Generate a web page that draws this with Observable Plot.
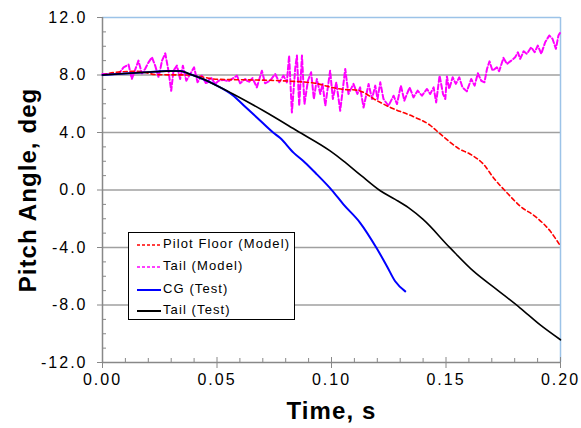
<!DOCTYPE html>
<html><head><meta charset="utf-8">
<script src="https://cdn.jsdelivr.net/npm/d3@7"></script>
<script src="https://cdn.jsdelivr.net/npm/@observablehq/plot@0.6"></script>
<style>
body{margin:0;background:#fff;}
#wrap{position:relative;width:581px;height:428px;}
#wrap svg g[aria-label="y-axis tick label"] text,
#wrap svg g[aria-label="x-axis tick label"] text{letter-spacing:2px;}
#wrap svg g[aria-label="text"] text{letter-spacing:1.1px;}
#legend{position:absolute;left:128px;top:232px;width:165px;height:86px;border:1px solid #000;background:#fff;font-family:"Liberation Sans",Arial,sans-serif;font-size:13px;letter-spacing:1.1px;color:#000;}
#legend .row{position:absolute;left:8px;height:20px;line-height:20px;white-space:nowrap;}
#legend svg{vertical-align:middle;margin-right:2px;}
</style></head><body><div id="wrap"></div>
<script>
// X ticks and Y ticks
const xTicks = [0, 0.05, 0.10, 0.15, 0.20];
const yTicks = [-12, -8, -4, 0, 4, 8, 12];

// Pilot Floor (Model)
const pilotT = [0, 0.006, 0.015, 0.024, 0.038, 0.05, 0.064, 0.078, 0.093, 0.1, 0.105, 0.111, 0.12, 0.1256, 0.1358, 0.1431, 0.1475, 0.156, 0.1606, 0.1664, 0.1707, 0.1766, 0.1824, 0.1897, 0.1955, 0.2];
const pilotY = [8.0, 8.19, 8.26, 8.02, 8.0, 7.7, 7.66, 7.6, 7.42, 7.14, 7.0, 6.95, 6.2, 5.75, 5.1, 4.5, 3.9, 2.84, 2.49, 1.79, 0.86, -0.19, -1.12, -1.93, -2.86, -3.91];

// Tail (Model)
const tailModelT = [0, 0.007, 0.0092, 0.0114, 0.0128, 0.0157, 0.0172, 0.0186, 0.0201, 0.0216, 0.023, 0.0245, 0.026, 0.0274, 0.0288, 0.03, 0.031, 0.0325, 0.0339, 0.0351, 0.0366, 0.0383, 0.04, 0.0415, 0.0434, 0.0453, 0.0473, 0.0492, 0.0507, 0.0528, 0.055, 0.0572, 0.0587, 0.0601, 0.0623, 0.0638, 0.0655, 0.0674, 0.0696, 0.071, 0.0732, 0.0754, 0.0772, 0.079, 0.0805, 0.0815, 0.0827, 0.0842, 0.0849, 0.0859, 0.0871, 0.0882, 0.0897, 0.0911, 0.0923, 0.0936, 0.0951, 0.0961, 0.0973, 0.0994, 0.1006, 0.1021, 0.1038, 0.106, 0.1074, 0.1096, 0.1113, 0.1125, 0.114, 0.1162, 0.1177, 0.1191, 0.1201, 0.1213, 0.1227, 0.1249, 0.1271, 0.1286, 0.1303, 0.1318, 0.1341, 0.1358, 0.1376, 0.1395, 0.1417, 0.1431, 0.1446, 0.1457, 0.1472, 0.1487, 0.1497, 0.1504, 0.1514, 0.1529, 0.1543, 0.1558, 0.1572, 0.1591, 0.161, 0.1625, 0.1639, 0.1654, 0.1668, 0.1679, 0.169, 0.1703, 0.1722, 0.1732, 0.1751, 0.1766, 0.1785, 0.1802, 0.1814, 0.1824, 0.1839, 0.1853, 0.1872, 0.1887, 0.1901, 0.1916, 0.1933, 0.1951, 0.1965, 0.198, 0.1991, 0.2];
const tailModelY = [8.07, 8.07, 8.53, 8.72, 7.72, 9.0, 8.1, 8.42, 8.88, 9.23, 8.65, 7.84, 9.0, 9.51, 8.3, 6.9, 8.3, 8.65, 7.72, 8.65, 7.6, 8.07, 8.53, 7.49, 7.96, 7.38, 7.84, 7.38, 7.6, 7.66, 7.56, 7.79, 7.96, 7.42, 7.72, 7.49, 7.79, 7.14, 8.3, 7.42, 7.6, 8.07, 7.49, 7.96, 7.49, 9.35, 5.39, 8.53, 9.35, 5.86, 9.35, 5.98, 7.6, 8.19, 6.33, 7.72, 6.68, 7.38, 5.86, 8.3, 6.33, 7.49, 5.51, 8.42, 6.68, 7.38, 6.68, 7.14, 5.74, 7.38, 6.33, 7.26, 6.33, 7.49, 6.33, 5.86, 6.56, 5.98, 7.26, 6.21, 7.14, 6.44, 6.91, 6.56, 7.03, 6.68, 7.14, 6.09, 7.96, 6.68, 6.33, 7.9, 7.03, 7.84, 7.38, 7.84, 7.14, 6.86, 7.72, 7.26, 8.12, 7.6, 7.49, 8.42, 8.95, 8.3, 8.53, 8.26, 9.19, 8.77, 9.0, 9.23, 9.58, 9.12, 9.65, 9.47, 9.93, 9.58, 10.05, 9.47, 10.28, 10.75, 10.52, 9.82, 10.75, 10.98];

// CG (Test)
const cgT = [0, 0.01, 0.02, 0.028, 0.034, 0.038, 0.0456, 0.05, 0.057, 0.0616, 0.0674, 0.0745, 0.0776, 0.0834, 0.0885, 0.0936, 0.1002, 0.1052, 0.1125, 0.1198, 0.1242, 0.1278, 0.1322];
const cgY = [8.0, 8.1, 8.2, 8.27, 8.28, 8.07, 7.6, 7.26, 6.58, 5.9, 5.05, 4.0, 3.61, 2.6, 1.9, 1.09, -0.02, -1.0, -2.28, -4.07, -5.3, -6.35, -7.05];

// Tail (Test)
const tailTestT = [0, 0.01, 0.02, 0.028, 0.034, 0.038, 0.0456, 0.05, 0.057, 0.0703, 0.0849, 0.0994, 0.105, 0.113, 0.1213, 0.1278, 0.1336, 0.14, 0.1518, 0.162, 0.1722, 0.1824, 0.191, 0.2];
const tailTestY = [8.0, 8.1, 8.2, 8.27, 8.28, 8.07, 7.6, 7.25, 6.68, 5.51, 4.12, 2.72, 2.05, 1.0, -0.05, -0.65, -1.23, -2.05, -4.03, -5.65, -6.93, -8.21, -9.37, -10.42];

const series = [
  {name: "Pilot Floor (Model)", color: "#ff0000", dash: "4,3", width: 1.6, dashed: true},
  {name: "Tail (Model)", color: "#ff00ff", dash: "5,2.5", width: 2, dashed: true},
  {name: "CG (Test)", color: "#0000ff", dash: null, width: 2, dashed: false},
  {name: "Tail (Test)", color: "#000000", dash: null, width: 1.6, dashed: false}
];

const zip = (T, Y) => T.map((t, i) => ({t, y: Y[i]}));
const pilot = zip(pilotT, pilotY);
const tailModel = zip(tailModelT, tailModelY);
const cg = zip(cgT, cgY);
const tailTest = zip(tailTestT, tailTestY);

const xMinor = d3.range(0, 0.2001, 0.01).filter(v => Math.abs(v / 0.05 - Math.round(v / 0.05)) > 1e-6);
const yMinor = d3.range(-12, 12.001, 1).filter(v => v % 4 !== 0);
const grid = yTicks.filter(v => v > -12 && v < 12);

const chart = Plot.plot({
  width: 581,
  height: 428,
  marginLeft: 102,
  marginRight: 21,
  marginTop: 17,
  marginBottom: 66,
  style: {fontFamily: "'Liberation Sans', Arial, sans-serif", background: "#fff", color: "#000", overflow: "visible"},
  x: {domain: [0, 0.2]},
  y: {domain: [-12, 12]},
  marks: [
    Plot.gridY(grid, {stroke: "#a0a0a0", strokeOpacity: 1, strokeWidth: 1.5}),
    Plot.ruleY([12], {stroke: "#9cc3e8", strokeWidth: 1.5}),
    Plot.ruleX([0.2], {stroke: "#9cc3e8", strokeWidth: 1.5}),
    Plot.axisY({ticks: yTicks, tickFormat: d => d.toFixed(1), tickSize: 5, tickPadding: 10, fontSize: 16, label: null, stroke: "#888"}),
    Plot.axisY({ticks: yMinor, tickSize: -4, text: null, label: null, stroke: "#888"}),
    Plot.axisX({ticks: xTicks, tickFormat: d => d.toFixed(2), tickSize: 6, tickPadding: 5, fontSize: 16, label: null, stroke: "#888"}),
    Plot.axisX({ticks: xTicks, tickSize: -5, text: null, label: null, stroke: "#888"}),
    Plot.axisX({ticks: xMinor, tickSize: -4, text: null, label: null, stroke: "#888"}),
    Plot.ruleX([0], {stroke: "#888", strokeWidth: 1.5}),
    Plot.ruleY([-12], {stroke: "#888", strokeWidth: 1.5}),
    Plot.line(tailModel, {x: "t", y: "y", stroke: series[1].color, strokeWidth: series[1].width, strokeDasharray: series[1].dash}),
    Plot.line(pilot, {x: "t", y: "y", stroke: series[0].color, strokeWidth: series[0].width, strokeDasharray: series[0].dash, curve: "monotone-x"}),
    Plot.line(cg, {x: "t", y: "y", stroke: series[2].color, strokeWidth: series[2].width, curve: "monotone-x"}),
    Plot.line(tailTest, {x: "t", y: "y", stroke: series[3].color, strokeWidth: series[3].width, curve: "monotone-x"}),
    Plot.text(["Time, s"], {frameAnchor: "bottom", lineAnchor: "middle", textAnchor: "middle", dy: 49, text: d => d, fontSize: 24, fontWeight: "bold", fill: "#000"}),
    Plot.text(["Pitch Angle, deg"], {frameAnchor: "left", lineAnchor: "middle", textAnchor: "middle", dx: -74, rotate: -90, text: d => d, fontSize: 24, fontWeight: "bold", fill: "#000"})
  ]
});

const wrap = document.getElementById("wrap");
wrap.appendChild(chart);

// Legend (inside the plot area, built from the series list)
const legend = document.createElement("div");
legend.id = "legend";
const rowTops = [1, 23, 46, 67];
series.forEach((s, i) => {
  const row = document.createElement("div");
  row.className = "row";
  row.style.top = rowTops[i] + "px";
  const sw = d3.create("svg").attr("width", 24).attr("height", 6);
  sw.append("line").attr("x1", 0).attr("x2", 24).attr("y1", 3).attr("y2", 3)
    .attr("stroke", s.color).attr("stroke-width", s.dashed ? 1.5 : 2)
    .attr("stroke-dasharray", s.dashed ? "3,2" : null);
  row.appendChild(sw.node());
  row.appendChild(document.createTextNode(s.name));
  legend.appendChild(row);
});
wrap.appendChild(legend);
</script>
</body></html>
